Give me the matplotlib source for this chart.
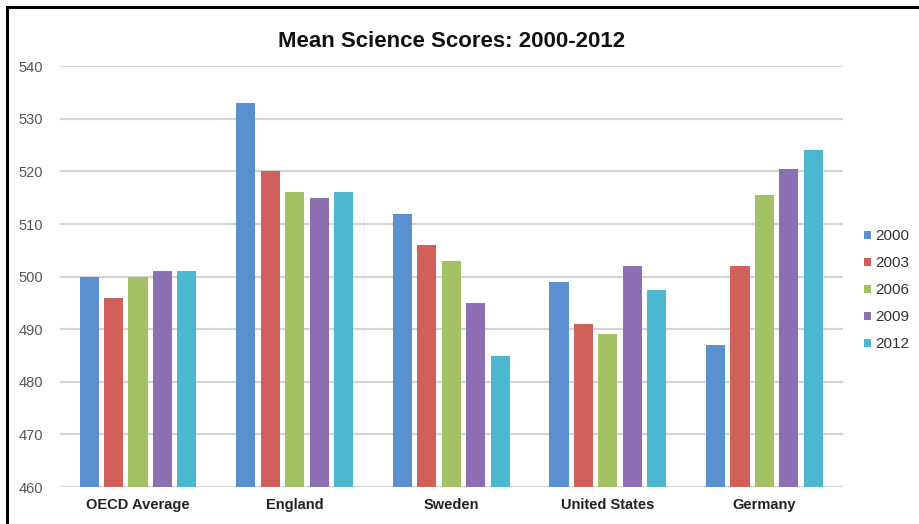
import numpy as np
from matplotlib import pyplot as plt
from matplotlib.patches import Rectangle

plt.rcParams['font.family'] = ['Liberation Sans', 'DejaVu Sans']

countries = ['OECD Average', 'England', 'Sweden', 'United States', 'Germany']
years = ['2000', '2003', '2006', '2009', '2012']
scores_2000 = [500, 533, 512, 499, 487]
scores_2003 = [496, 520, 506, 491, 502]
scores_2006 = [500, 516, 503, 489, 515.5]
scores_2009 = [501, 515, 495, 502, 520.5]
scores_2012 = [501, 516, 485, 497.5, 524]
colors = ['#5a8fd0', '#d2605a', '#a2c264', '#8c6fb3', '#4cb8d0']

series = [scores_2000, scores_2003, scores_2006, scores_2009, scores_2012]

fig = plt.figure(figsize=(9.19, 5.24), dpi=100)
ax = fig.add_axes([0.065, 0.0706, 0.852, 0.803])

x = np.arange(len(countries))
pitch = 0.156
width = 0.122
for i, (vals, yr, c) in enumerate(zip(series, years, colors)):
    ax.bar(x + (i - 2) * pitch, np.array(vals) - 460, bottom=460, width=width,
           color=c, label=yr, zorder=3)

ax.set_xlim(-0.5, 4.5)
ax.set_ylim(460, 540)
ax.set_yticks(range(460, 541, 10))
ax.grid(axis='y', color='#d4d4d4', linewidth=1.6, zorder=0)
for s in ax.spines.values():
    s.set_visible(False)
ax.tick_params(axis='y', length=0, labelsize=10.5, labelcolor='#555555', pad=12)
ax.tick_params(axis='x', length=0, pad=8)
ax.set_xticks(x)
ax.set_xticklabels(countries, fontsize=10.5, fontweight='bold', color='#222222')

ax.set_title('Mean Science Scores: 2000-2012', fontsize=16, fontweight='bold',
             color='#111111', pad=14)

ax.legend(loc='center left', bbox_to_anchor=(1.01, 0.468), frameon=False,
          fontsize=11, handlelength=0.45, handleheight=0.45, handletextpad=0.25,
          labelspacing=0.85, labelcolor='#333333')

# black frame around the picture
fig.patches.append(Rectangle((7 / 919, -0.05), 1.0, 1.05 - 7 / 524, transform=fig.transFigure,
                             fill=False, edgecolor='black', linewidth=2.2))

fig.savefig('out.png', dpi=100)
